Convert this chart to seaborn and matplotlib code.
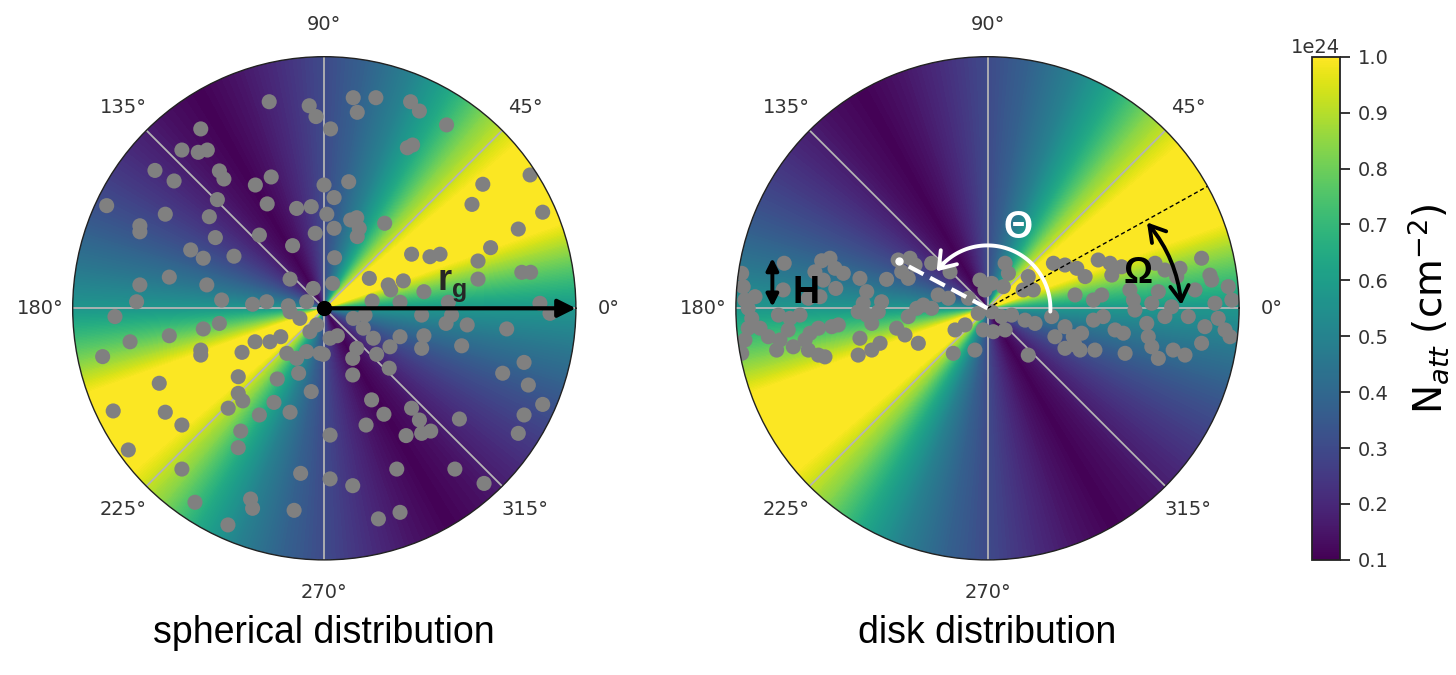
import numpy as np
import matplotlib
matplotlib.use("Agg")
import matplotlib.pyplot as plt
import seaborn as sns

# N_att along the rim (units of 1e24 cm^-2), read every 10 deg from 0 to 170;
# the pattern repeats after 180 deg
rim_angle_deg = [0, 10, 20, 30, 40, 50, 60, 70, 80, 90, 100, 110, 120, 130, 140, 150, 160, 170]
rim_natt = [0.57, 0.78, 1.0, 1.0, 1.0, 0.84, 0.64, 0.49, 0.38, 0.30, 0.22, 0.15, 0.10, 0.14, 0.20, 0.27, 0.35, 0.45]

# galaxy positions, in units of r_g
sph_x = [-0.219, -0.060, -0.033, -0.491, -0.566, -0.501, -0.465, -0.673, -0.417, -0.399, -0.597, -0.211, -0.274, -0.001,
         -0.865, -0.425, -0.227, -0.110, -0.052, -0.632, -0.457, -0.733, -0.733, -0.036, -0.258, -0.433, -0.126, -0.531,
         -0.481, -0.359, -0.616, -0.136, -0.733, -0.467, -0.044, -0.746, -0.408, -0.285, -0.229, -0.143, -0.070,
         0.115, 0.131, 0.205, 0.343, 0.378, 0.486, 0.025, 0.330, 0.351, 0.097, 0.039, 0.010, 0.129, 0.105, 0.139, 0.039,
         0.131, 0.240, 0.630, 0.818, 0.587, 0.868, 0.771, 0.661, 0.611, 0.347, 0.420, 0.460, 0.041, 0.785, 0.820, 0.611,
         0.179, 0.254, 0.264, 0.314, 0.396, 0.033, 0.190, 0.301, 0.493, 0.857,
         -0.832, -0.772, -0.881, -0.616, -0.481, -0.417, -0.491, -0.491, -0.327, -0.275, -0.216, -0.173, -0.136, -0.097,
         -0.057, -0.030, -0.149, -0.110, -0.070, -0.017, -0.102, -0.187, -0.052, -0.342, -0.342, -0.324, -0.382, -0.200,
         -0.258, -0.136, -0.656, -0.839, -0.632, -0.566, -0.332, -0.342, -0.779, -0.566, -0.094, -0.514, -0.293, -0.285,
         -0.120, -0.383,
         0.023, 0.052, -0.004, 0.115, 0.162, 0.155, 0.195, 0.129, 0.113, 0.208, 0.261, 0.301, 0.258, 0.113, 0.387, 0.484,
         0.506, 0.568, 0.396, 0.387, 0.546, 0.725, 0.897, 0.794, 0.709, 0.811, 0.868, 0.794, 0.771, 0.537, 0.188, 0.237,
         0.347, 0.378, 0.166, 0.023, 0.325, 0.387, 0.423, 0.288, 0.519, 0.635, 0.023, 0.113, 0.301, 0.215]
sph_y = [0.821, 0.805, 0.762, 0.713, 0.629, 0.620, 0.629, 0.548, 0.546, 0.514, 0.506, 0.522, 0.490, 0.490,
         0.408, 0.432, 0.415, 0.397, 0.404, 0.374, 0.364, 0.328, 0.304, 0.298, 0.291, 0.281, 0.249, 0.232,
         0.199, 0.207, 0.124, 0.116, 0.093, 0.093, 0.079, 0.026, 0.033, 0.016, 0.026, 0.010, 0.026,
         0.837, 0.779, 0.837, 0.821, 0.784, 0.729, 0.713, 0.638, 0.649, 0.503, 0.440, 0.374, 0.360, 0.351, 0.318, 0.318,
         0.285, 0.338, 0.493, 0.530, 0.413, 0.382, 0.315, 0.241, 0.188, 0.215, 0.205, 0.215, 0.201, 0.143, 0.143, 0.116,
         0.119, 0.093, 0.073, 0.109, 0.066, 0.099, 0.029, 0.024, 0.024, 0.020,
         -0.033, -0.133, -0.192, -0.109, -0.082, -0.060, -0.166, -0.186, -0.175, -0.133, -0.133, -0.113, -0.014, -0.040,
         -0.093, -0.066, -0.179, -0.199, -0.172, -0.179, -0.258, -0.281, -0.331, -0.272, -0.338, -0.368, -0.397, -0.374,
         -0.424, -0.413, -0.298, -0.408, -0.413, -0.464, -0.488, -0.554, -0.563, -0.639, -0.656, -0.771, -0.758, -0.795,
         -0.803, -0.861,
         -0.119, -0.109, -0.183, -0.040, -0.027, -0.079, -0.119, -0.159, -0.199, -0.183, -0.153, -0.113, -0.238, -0.265,
         -0.027, -0.060, -0.027, -0.066, -0.109, -0.159, -0.149, -0.082, -0.020, -0.215, -0.258, -0.305, -0.382, -0.424,
         -0.497, -0.440, -0.364, -0.421, -0.397, -0.444, -0.464, -0.504, -0.506, -0.497, -0.488, -0.639, -0.639, -0.696,
         -0.678, -0.705, -0.811, -0.837]

disk_x = [-0.977, -0.971, -0.964, -0.808, -0.659, -0.626, -0.606, -0.686, -0.653, -0.573, -0.603, -0.507, -0.480,
          -0.401, -0.355, -0.308, -0.288, -0.341, -0.315, -0.222, -0.149, -0.196, -0.156, -0.076, -0.030, -0.010,
          -0.812, -0.924, -0.712, -0.666, -0.421, -0.494,
          -0.951, -0.937, -0.951, -0.904, -0.871, -0.964, -0.977, -0.831, -0.785, -0.745, -0.792, -0.825, -0.838,
          -0.772, -0.725, -0.705, -0.672, -0.619, -0.593, -0.712, -0.672, -0.646, -0.514, -0.480, -0.460, -0.434,
          -0.507, -0.514, -0.460, -0.427, -0.361, -0.328, -0.315, -0.281, -0.255, -0.275, -0.222, -0.129, -0.089,
          -0.136, -0.050, -0.037, -0.017,
          0.070, 0.083, 0.017, 0.063, 0.142, 0.182, 0.162, 0.262, 0.308, 0.355, 0.388, 0.440, 0.487, 0.494, 0.533,
          0.666, 0.705, 0.765, 0.752, 0.851, 0.884, 0.891, 0.957, 0.348, 0.421, 0.454, 0.566, 0.580, 0.679, 0.653,
          0.825, 0.904, 0.971,
          0.017, 0.056, 0.096, 0.149, 0.189, 0.023, 0.070, 0.255, 0.268, 0.308, 0.341, 0.374, 0.421, 0.460, 0.427,
          0.368, 0.348, 0.162, 0.308, 0.507, 0.540, 0.547, 0.633, 0.639, 0.653, 0.679, 0.705, 0.738, 0.785, 0.798,
          0.851, 0.864, 0.917, 0.944, 0.964, 0.732, 0.586]
disk_y = [0.139, 0.086, 0.033, 0.179, 0.189, 0.199, 0.159, 0.145, 0.112, 0.139, 0.079, 0.119, 0.066,
          0.115, 0.192, 0.199, 0.172, 0.145, 0.119, 0.179, 0.145, 0.053, 0.040, 0.040, 0.112, 0.073,
          0.073, 0.046, 0.040, 0.046, 0.026, 0.020,
          0.000, -0.040, -0.079, -0.079, -0.113, -0.126, -0.179, -0.027, -0.040, -0.027, -0.086, -0.126, -0.166,
          -0.153, -0.126, -0.099, -0.079, -0.073, -0.066, -0.166, -0.186, -0.193, -0.014, -0.027, -0.060, -0.014,
          -0.119, -0.186, -0.166, -0.139, -0.079, -0.106, -0.033, 0.000, 0.013, -0.139, 0.000, -0.086, -0.066,
          -0.179, -0.166, -0.020, -0.086,
          0.179, 0.139, 0.099, 0.086, 0.073, 0.073, 0.126, 0.179, 0.172, 0.159, 0.126, 0.192, 0.179, 0.132, 0.165,
          0.179, 0.152, 0.159, 0.126, 0.199, 0.132, 0.112, 0.086, 0.053, 0.033, 0.053, 0.073, 0.033, 0.066, 0.020,
          0.073, 0.020, 0.033,
          -0.014, -0.033, -0.027, -0.047, -0.060, -0.093, -0.086, -0.033, -0.113, -0.073, -0.113, -0.099, -0.047,
          -0.033, -0.166, -0.166, -0.146, -0.186, -0.159, -0.086, -0.099, -0.179, -0.060, -0.113, -0.153, -0.199,
          -0.033, -0.166, -0.186, -0.033, -0.139, -0.073, -0.040, -0.086, -0.113, 0.006, -0.007]

theta_ticks = [0, 45, 90, 135, 180, 225, 270, 315]
cbar_ticks = [0.1, 0.2, 0.3, 0.4, 0.5, 0.6, 0.7, 0.8, 0.9, 1.0]
titles = ["spherical distribution", "disk distribution"]

# annotation geometry (r_g units / degrees)
omega_axis_deg = 29
disk_dir_deg = 152
theta_arc_r = 0.25
disk_half_height = 0.2

sns.set_style("white")
plt.rcParams["font.family"] = ["DejaVu Sans"]
txt_col = "#333333"
bold_font = "Liberation Sans"

fig = plt.figure(figsize=(14.56, 6.75), dpi=100)
W, H = 1456, 675
ax_l = fig.add_axes([72.7 / W, 115.1 / H, 503.2 / W, 503.2 / H], projection="polar")
ax_r = fig.add_axes([735.9 / W, 115.1 / H, 503.2 / W, 503.2 / H], projection="polar")
cax = fig.add_axes([1312 / W, 115.1 / H, 28 / W, 503.2 / H])

norm = plt.Normalize(1e23, 1e24)


def frac(x, y):
    return 0.5 + x / 2, 0.5 + y / 2


def draw_panel(ax, xs, ys, title):
    th = np.deg2rad(np.r_[rim_angle_deg, np.array(rim_angle_deg) + 180, 360])
    vals = np.r_[rim_natt, rim_natt, rim_natt[:1]] * 1e24
    T, R = np.meshgrid(th, [0, 1.06])
    Z = np.vstack([vals, vals])
    ax.contourf(T, R, Z, levels=np.linspace(1e23, 1e24, 121), cmap="viridis", norm=norm,
                extend="both", zorder=1)
    xs = np.array(xs)
    ys = np.array(ys)
    sns.scatterplot(x=np.arctan2(ys, xs), y=np.hypot(xs, ys), ax=ax, color="#808080",
                    s=118, linewidth=0, edgecolor="none", zorder=2)
    ax.set_ylim(0, 1)
    ax.set_yticks([])
    ax.set_xticks(np.deg2rad(theta_ticks))
    ax.grid(True, axis="x", color="#b4b4b4", linewidth=1.3)
    ax.set_axisbelow("line")
    ax.tick_params(axis="x", labelsize=14, labelcolor=txt_col, pad=13)
    ax.set_xlabel("")
    ax.set_ylabel("")
    ax.spines["polar"].set_color("#222222")
    ax.spines["polar"].set_linewidth(1.0)
    fig.text(ax.get_position().x0 + ax.get_position().width / 2, 32 / H, title,
             ha="center", va="baseline", fontsize=27, family="Liberation Sans", color="black")


draw_panel(ax_l, sph_x, sph_y, titles[0])
draw_panel(ax_r, disk_x, disk_y, titles[1])

# left panel: r_g arrow
ax_l.annotate("", xy=(0, 1.0), xytext=(0, 0),
              arrowprops=dict(arrowstyle="-|>", color="black", lw=3, mutation_scale=27,
                              shrinkA=0, shrinkB=0), zorder=6)
ax_l.plot([0], [0], "o", color="black", ms=10, zorder=7)
ax_l.text(*frac(0.448, 0.073), "r", transform=ax_l.transAxes, ha="left", va="baseline",
          fontsize=26, fontweight="bold", family=bold_font, zorder=7)
ax_l.text(*frac(0.506, 0.045), "g", transform=ax_l.transAxes, ha="left", va="baseline",
          fontsize=18, fontweight="bold", family=bold_font, zorder=7)

# right panel: Omega axis, Theta arc, H arrow
om = np.deg2rad(omega_axis_deg)
ax_r.plot([om, om], [0, 1], color="black", lw=1, dashes=(3, 2), zorder=5)
dd = np.deg2rad(disk_dir_deg)
ax_r.plot([dd, dd], [0, 0.36], color="white", lw=3, dashes=(4, 1.8), zorder=5)
ax_r.plot([dd], [0.40], "o", color="white", ms=5, zorder=5)

arc_t = np.deg2rad(np.linspace(-3, 138, 80))
ax_r.plot(arc_t, np.full_like(arc_t, theta_arc_r), color="white", lw=2.8, zorder=5)
ax_r.annotate("", xy=(np.deg2rad(144), theta_arc_r), xytext=(np.deg2rad(134), theta_arc_r),
              arrowprops=dict(arrowstyle="->,head_length=0.5,head_width=0.35", color="white", lw=2.8,
                              mutation_scale=22, shrinkA=0, shrinkB=0), zorder=5)
ax_r.text(*frac(0.122, 0.279), "Θ", transform=ax_r.transAxes, ha="center", va="baseline",
          fontsize=27, fontweight="bold", family=bold_font, color="white", zorder=6)

ax_r.annotate("", xy=(np.deg2rad(1.0), 0.771), xytext=(np.deg2rad(28.3), 0.720),
              arrowprops=dict(arrowstyle="<->,head_length=0.5,head_width=0.3", color="black", lw=2.8,
                              mutation_scale=22, shrinkA=0, shrinkB=0,
                              connectionstyle="arc3,rad=-0.15"), zorder=6)
ax_r.text(*frac(0.600, 0.102), "Ω", transform=ax_r.transAxes, ha="center", va="baseline",
          fontsize=26, fontweight="bold", family=bold_font, color="black", zorder=6)

ax_r.annotate("", xy=frac(-0.855, disk_half_height), xytext=frac(-0.855, 0.006),
              xycoords="axes fraction", textcoords="axes fraction",
              arrowprops=dict(arrowstyle="<|-|>", color="black", lw=2.8, mutation_scale=18,
                              shrinkA=0, shrinkB=0), zorder=6)
ax_r.text(*frac(-0.723, 0.022), "H", transform=ax_r.transAxes, ha="center", va="baseline",
          fontsize=27, fontweight="bold", family=bold_font, color="black", zorder=6)

# colorbar
sm = plt.cm.ScalarMappable(norm=norm, cmap="viridis")
cb = fig.colorbar(sm, cax=cax, ticks=np.array(cbar_ticks) * 1e24)
cb.ax.tick_params(labelsize=14, labelcolor=txt_col, length=7, width=1.3, pad=6)
cb.ax.yaxis.get_offset_text().set_fontsize(14)
cb.ax.yaxis.get_offset_text().set_color(txt_col)
cb.outline.set_linewidth(1.3)
cb.outline.set_edgecolor("#222222")
cb.set_label(r"N$_{att}$ (cm$^{-2}$)", fontsize=28, labelpad=12, color="black")

fig.savefig("out.png", dpi=100)
